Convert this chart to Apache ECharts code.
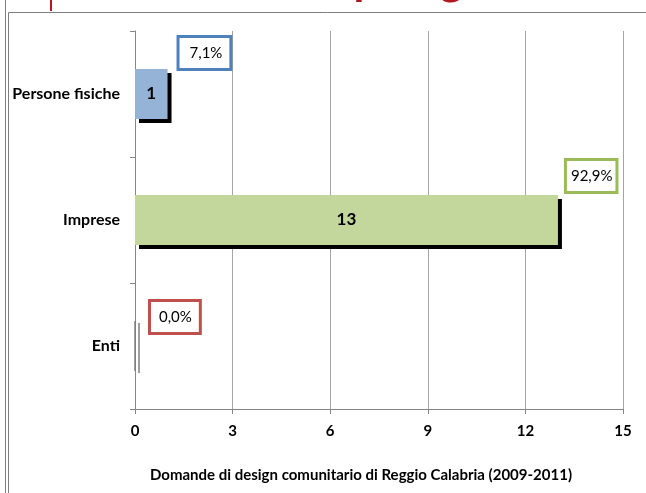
<!DOCTYPE html>
<html>
<head>
<meta charset="utf-8">
<script src="https://cdn.jsdelivr.net/npm/echarts@6/dist/echarts.min.js"></script>
<style>
  html, body { margin: 0; padding: 0; background: #fff; }
  #chart { width: 646px; height: 493px; }
</style>
</head>
<body>
<div id="chart"></div>
<script>
var categories = ['Persone fisiche', 'Imprese', 'Enti'];
var counts = [1, 13, 0];
var barColors = ['#95B3D7', '#C3D69B', '#D99694'];
var boxColors = ['#4F81BD', '#9BBB59', '#C0504D'];

// where each percentage box sits, relative to the top-right of its bar
var boxOffsets = [[12, -31], [9, -34], [16, -19]];
var boxPadding = [[8, 7, 7, 10], [8, 3, 7, 4], [8, 7, 7, 8]];

var font = 'Lato';
var total = counts.reduce(function (a, b) { return a + b; }, 0);

function pct(v) {
  return (v / total * 100).toFixed(1).replace('.', ',') + '%';
}

var chart = echarts.init(document.getElementById('chart'));

var option = {
  backgroundColor: '#fff',
  animation: false,
  grid: { left: 135, right: 23, top: 31, bottom: 84 },
  graphic: [
    { type: 'line', shape: { x1: 5.5, y1: 0, x2: 5.5, y2: 493 }, style: { stroke: '#7F7F7F', lineWidth: 1 } },
    { type: 'line', shape: { x1: 8.5, y1: 12.5, x2: 8.5, y2: 493 }, style: { stroke: '#7F7F7F', lineWidth: 1 } },
    { type: 'line', shape: { x1: 8.5, y1: 12.5, x2: 646, y2: 12.5 }, style: { stroke: '#7F7F7F', lineWidth: 1 } },
    { type: 'rect', shape: { x: 50, y: 0, width: 2, height: 11 }, style: { fill: '#B0171F' } },
    {
      type: 'text', left: 316, top: -41,
      style: { text: 'Tipologia', font: 'bold 44px Lato', fill: '#B0171F' }
    }
  ],
  xAxis: {
    type: 'value',
    min: 0,
    max: 15,
    interval: 3,
    name: 'Domande di design comunitario di Reggio Calabria (2009-2011)',
    nameLocation: 'middle',
    nameGap: 59,
    nameTextStyle: { fontFamily: font, fontWeight: 'bold', fontSize: 15, color: '#000', padding: [0, 36, 0, 0] },
    axisLine: { show: true, lineStyle: { color: '#868686' } },
    axisTick: { show: true, length: 5, lineStyle: { color: '#868686' } },
    axisLabel: { fontFamily: font, fontWeight: 'bold', fontSize: 15, color: '#000', margin: 15 },
    splitLine: { show: true, lineStyle: { color: '#A6A6A6' } }
  },
  yAxis: {
    type: 'category',
    data: categories,
    inverse: true,
    axisLine: { show: true, lineStyle: { color: '#868686' } },
    axisTick: { show: true, length: 5, lineStyle: { color: '#868686' } },
    axisLabel: { fontFamily: font, fontWeight: 'bold', fontSize: 16, color: '#000', margin: 15 },
    splitLine: { show: false }
  },
  series: [
    {
      type: 'bar',
      barWidth: 50,
      data: counts.map(function (v, i) {
        var item = { value: v, itemStyle: { color: barColors[i] } };
        if (v === 0) {
          item.itemStyle = {
            color: barColors[i], borderColor: '#7F7F7F', borderWidth: 1,
            shadowColor: '#7F7F7F', shadowOffsetX: 4, shadowOffsetY: 2, shadowBlur: 0
          };
        }
        return item;
      }),
      itemStyle: { shadowColor: '#000', shadowOffsetX: 4, shadowOffsetY: 4, shadowBlur: 0 },
      label: {
        show: true,
        position: 'inside',
        fontFamily: font,
        fontWeight: 'bold',
        fontSize: 17,
        color: '#000',
        formatter: function (p) { return p.value > 0 ? p.value : ''; }
      }
    },
    {
      type: 'bar',
      barWidth: 50,
      barGap: '-100%',
      silent: true,
      z: 3,
      itemStyle: { color: 'transparent' },
      data: counts.map(function (v, i) {
        return {
          value: v,
          label: {
            position: ['100%', 0],
            offset: boxOffsets[i],
            borderColor: boxColors[i],
            padding: boxPadding[i]
          }
        };
      }),
      label: {
        show: true,
        formatter: function (p) { return pct(p.value); },
        fontFamily: font,
        fontSize: 15,
        color: '#000',
        backgroundColor: '#fff',
        borderWidth: 3
      }
    }
  ]
};

chart.setOption(option);
</script>
</body>
</html>
